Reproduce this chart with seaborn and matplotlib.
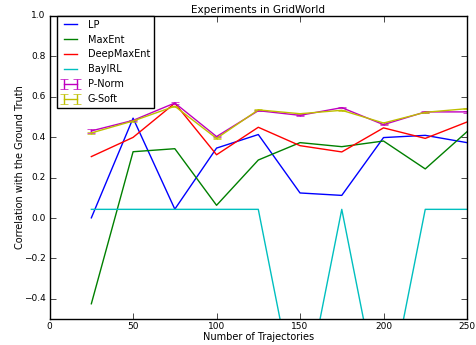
import matplotlib
matplotlib.use("Agg")
import matplotlib.pyplot as plt
import seaborn as sns
import numpy as np
import pandas as pd

trajectories = [25, 50, 75, 100, 125, 150, 175, 200, 225, 250]
lp = [0.001, 0.494, 0.044, 0.346, 0.413, 0.124, 0.112, 0.398, 0.409, 0.373]
maxent = [-0.424, 0.328, 0.343, 0.063, 0.287, 0.373, 0.353, 0.381, 0.243, 0.427]
deepmaxent = [0.304, 0.399, 0.568, 0.313, 0.449, 0.358, 0.327, 0.446, 0.394, 0.475]
bayirl = [0.043, 0.043, 0.043, 0.043, 0.043, -1.0, 0.043, -1.0, 0.043, 0.043]
pnorm = [0.431, 0.483, 0.569, 0.403, 0.531, 0.508, 0.546, 0.462, 0.525, 0.525]
pnorm_err = [0.010, 0.004, 0.004, 0.004, 0.004, 0.004, 0.004, 0.004, 0.003, 0.003]
gsoft = [0.421, 0.480, 0.553, 0.394, 0.535, 0.516, 0.533, 0.470, 0.523, 0.541]
gsoft_err = [0.004, 0.003, 0.003, 0.004, 0.003, 0.003, 0.003, 0.003, 0.003, 0.003]

plt.style.use("classic")
plt.rcParams["font.family"] = ["DejaVu Sans"]
plt.rcParams["font.size"] = 7

fig = plt.figure(figsize=(4.77, 3.45), dpi=100)
ax = fig.add_axes([0.104, 0.075, 0.875, 0.879])

df = pd.DataFrame({"x": trajectories, "LP": lp, "MaxEnt": maxent,
                   "DeepMaxEnt": deepmaxent, "BayIRL": bayirl})
for name, col in [("LP", "b"), ("MaxEnt", "g"), ("DeepMaxEnt", "r"), ("BayIRL", "c")]:
    sns.lineplot(data=df, x="x", y=name, ax=ax, color=col, label=name, linewidth=1)

ax.errorbar(trajectories, pnorm, yerr=pnorm_err, color="m", label="P-Norm", linewidth=1, capsize=3)
ax.errorbar(trajectories, gsoft, yerr=gsoft_err, color="y", label="G-Soft", linewidth=1, capsize=3)

ax.set_xlim(0, 250)
ax.set_ylim(-0.5, 1.0)
ax.set_xticks([0, 50, 100, 150, 200, 250])
ax.set_yticks([-0.4, -0.2, 0.0, 0.2, 0.4, 0.6, 0.8, 1.0])
ax.tick_params(labelsize=6.5)
ax.tick_params(axis="x", pad=2)
ax.tick_params(axis="y", pad=3)
ax.set_title("Experiments in GridWorld", fontsize=7.5, pad=2)
ax.set_xlabel("Number of Trajectories", fontsize=7, labelpad=1)
ax.set_ylabel("Correlation with the Ground Truth", fontsize=7, labelpad=-1)
ax.legend(loc="upper left", fontsize=7, borderaxespad=0.0, bbox_to_anchor=(0.017, 1.0))

fig.savefig("out.png", dpi=100)
